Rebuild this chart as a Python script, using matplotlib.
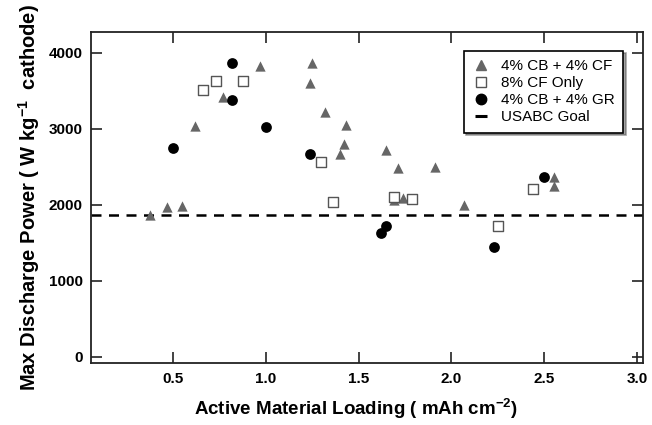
import matplotlib.pyplot as plt
from matplotlib.lines import Line2D
import numpy as np

plt.rcParams['font.family'] = ['Liberation Sans', 'DejaVu Sans']
plt.rcParams['font.weight'] = 'bold'

# 4% CB + 4% CF (gray triangles)
cf_x = [0.38, 0.47, 0.55, 0.62, 0.77, 0.97, 1.25, 1.24, 1.32, 1.43, 1.42, 1.40,
        1.65, 1.71, 1.91, 1.69, 1.74, 2.07, 2.55, 2.55]
cf_y = [1870, 1970, 1980, 3030, 3420, 3830, 3870, 3600, 3220, 3050, 2800, 2670,
        2720, 2480, 2500, 2060, 2090, 2000, 2370, 2250]

# 8% CF only (open squares)
cfo_x = [0.66, 0.73, 0.88, 1.30, 1.36, 1.69, 1.79, 2.44, 2.25]
cfo_y = [3510, 3630, 3630, 2560, 2040, 2100, 2070, 2210, 1720]

# 4% CB + 4% GR (black circles)
gr_x = [0.50, 0.82, 0.82, 1.00, 1.24, 1.62, 1.65, 2.23, 2.50]
gr_y = [2750, 3870, 3380, 3020, 2670, 1630, 1720, 1450, 2370]

usabc_goal = 1870

xticks = [0.5, 1.0, 1.5, 2.0, 2.5, 3.0]
yticks = [0, 1000, 2000, 3000, 4000]

fig = plt.figure(figsize=(6.52, 4.25), dpi=100)
ax = fig.add_axes([0.1396, 0.145, 0.8464, 0.779])

ax.scatter(cf_x, cf_y, marker='^', s=55, color='#666666', linewidths=0, zorder=3)
ax.scatter(cfo_x, cfo_y, marker='s', s=48, facecolor='white', edgecolor='#555555',
           linewidths=1.0, zorder=3)
ax.scatter(gr_x, gr_y, marker='o', s=60, color='black', linewidths=0, zorder=3)
ax.axhline(usabc_goal, color='black', linestyle=(0, (4, 3)), linewidth=1.8, zorder=2)

ax.set_xlim(0.06, 3.03)
ax.set_ylim(-87, 4268)
ax.set_xticks(xticks)
ax.set_yticks(yticks)
ax.set_xticklabels([f'{t:.1f}' for t in xticks], fontweight='bold', fontsize=11)
ax.set_yticklabels([str(t) for t in yticks], fontweight='bold', fontsize=11)
ax.tick_params(direction='in', length=8, width=1.2, top=True, right=True,
               color='#222222', pad=6)
for sp in ax.spines.values():
    sp.set_linewidth(1.3)
    sp.set_color('#222222')

ax.set_xlabel('Active Material Loading ( mAh cm$^{\\mathregular{-2}}$)', fontsize=13.5,
              fontweight='bold', labelpad=4)
ax.xaxis.set_label_coords(0.48, -0.1)
ax.set_ylabel('Max Discharge Power ( W kg$^{\\mathregular{-1}}$  cathode)', fontsize=14.5,
              fontweight='bold', labelpad=5)

handles = [
    Line2D([], [], marker='^', color='#666666', linestyle='none', markersize=7),
    Line2D([], [], marker='s', markerfacecolor='white', markeredgecolor='#555555',
           linestyle='none', markersize=6.5, markeredgewidth=1.0),
    Line2D([], [], marker='o', color='black', linestyle='none', markersize=7.5),
    Line2D([], [], marker='_', color='black', linestyle='none', markersize=8,
           markeredgewidth=2.2),
]
labels = ['4% CB + 4% CF', '8% CF Only', '4% CB + 4% GR', 'USABC Goal']
leg = ax.legend(handles, labels, loc='upper right', bbox_to_anchor=(0.978, 0.968),
                prop={'size': 11, 'weight': 'normal'},
                frameon=True, fancybox=False, shadow=True, handlelength=1.2,
                handletextpad=0.7, labelspacing=0.2, borderpad=0.55)
leg.get_frame().set_edgecolor('black')
leg.get_frame().set_linewidth(1.2)

fig.savefig('out.png', dpi=100)
